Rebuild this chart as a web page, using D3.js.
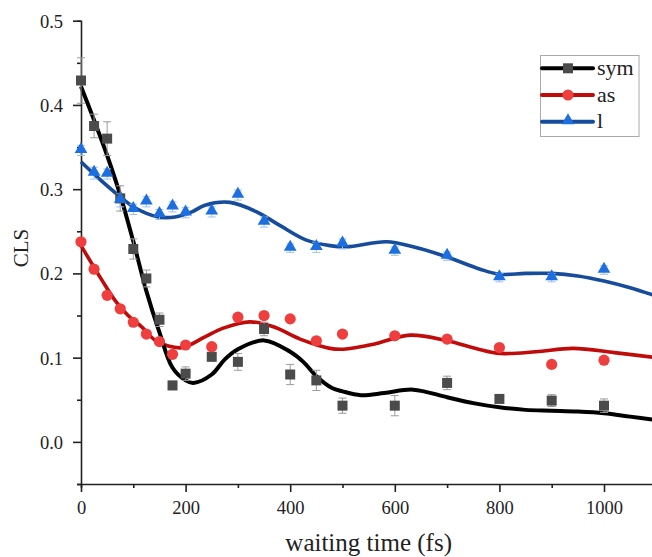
<!DOCTYPE html>
<html>
<head>
<meta charset="utf-8">
<script src="https://cdnjs.cloudflare.com/ajax/libs/d3/7.8.5/d3.min.js"></script>
<style>
  body { margin: 0; background: #fff; }
  svg text { font-family: "Liberation Serif", "DejaVu Serif", serif; fill: #222; }
</style>
</head>
<body>
<div id="chart"></div>
<script>
// measured points (fs, CLS)
var times = [0, 25, 50, 75, 100, 125, 150, 175, 200, 250, 300, 350, 400, 450, 500, 600, 700, 800, 900, 1000];

var symVals = [0.429, 0.375, 0.360, 0.289, 0.229, 0.194, 0.145, 0.067, 0.081, 0.101, 0.095, 0.134, 0.080, 0.073, 0.043, 0.043, 0.070, 0.051, 0.049, 0.043];
var symErr  = [0.027, 0.014, 0.020, 0.015, 0.012, 0.010, 0.008, 0.005, 0.008, 0.005, 0.010, 0.008, 0.012, 0.012, 0.009, 0.012, 0.008, 0.004, 0.007, 0.008];

var asVals = [0.2375, 0.205, 0.174, 0.158, 0.142, 0.128, 0.119, 0.104, 0.115, 0.113, 0.148, 0.150, 0.146, 0.120, 0.128, 0.126, 0.122, 0.112, 0.092, 0.097];

var lVals = [0.346, 0.319, 0.318, 0.287, 0.276, 0.285, 0.270, 0.279, 0.272, 0.273, 0.293, 0.261, 0.230, 0.231, 0.235, 0.2265, 0.2205, 0.195, 0.195, 0.204];
var lErr  = [0.006, 0.007, 0.006, 0.008, 0.006, 0.006, 0.006, 0.006, 0.006, 0.006, 0.006, 0.006, 0.005, 0.006, 0.006, 0.005, 0.005, 0.005, 0.005, 0.005];

// fit curves
var symFitT = [0, 25, 50, 75, 100, 125, 150, 175, 200, 215, 250, 275, 300, 350, 400, 425, 450, 480, 500, 535, 580, 635, 700, 750, 800, 850, 900, 950, 1000, 1050, 1100];
var symFitV = [0.422, 0.382, 0.340, 0.293, 0.238, 0.179, 0.130, 0.088, 0.073, 0.070, 0.080, 0.098, 0.110, 0.1205, 0.107, 0.095, 0.078, 0.064, 0.060, 0.0555, 0.058, 0.062, 0.053, 0.046, 0.041, 0.038, 0.037, 0.036, 0.034, 0.030, 0.026];

var asFitT = [0, 40, 65, 90, 116, 141, 167, 195, 237, 272, 323, 368, 419, 476, 502, 560, 629, 700, 760, 801, 870, 941, 1020, 1100];
var asFitV = [0.233, 0.192, 0.168, 0.150, 0.1366, 0.121, 0.1137, 0.112, 0.1247, 0.135, 0.1425, 0.1366, 0.122, 0.111, 0.110, 0.116, 0.1267, 0.120, 0.110, 0.105, 0.107, 0.111, 0.106, 0.100];

var lFitT = [0, 27, 71, 103, 148, 180, 212, 237, 285, 336, 380, 431, 476, 508, 584, 635, 699, 763, 800, 850, 900, 950, 1000, 1050, 1100];
var lFitV = [0.3325, 0.3167, 0.293, 0.278, 0.267, 0.267, 0.273, 0.281, 0.2843, 0.273, 0.257, 0.2395, 0.233, 0.2316, 0.2375, 0.2316, 0.2197, 0.205, 0.199, 0.200, 0.200, 0.197, 0.191, 0.183, 0.173];

var xTicks = [0, 200, 400, 600, 800, 1000];
var yTicks = [0.0, 0.1, 0.2, 0.3, 0.4, 0.5];
var seriesNames = ['sym', 'as', 'l'];

var W = 652, H = 557;
var svg = d3.select('#chart').append('svg')
    .attr('width', W)
    .attr('height', H);

var x = d3.scaleLinear().domain([0, 1100]).range([81, 656.3]);
var y = d3.scaleLinear().domain([-0.05, 0.5]).range([484, 20.7]);

var zip = function(ts, vs) { return ts.map(function(t, i) { return [t, vs[i]]; }); };

var line = d3.line()
    .x(function(d) { return x(d[0]); })
    .y(function(d) { return y(d[1]); })
    .curve(d3.curveCatmullRom.alpha(0.5));

// axes
var xAxis = svg.append('g')
    .attr('transform', 'translate(0,' + y(-0.05) + ')');
xAxis.call(d3.axisBottom(x).tickValues(d3.range(0, 1101, 100)).tickSize(4).tickFormat(''));
xAxis.call(function(g) { g.selectAll('.tick').filter(function(d) { return d % 200 === 0; }).select('line').attr('y2', 8); });
xAxis.selectAll('.tick').filter(function(d) { return xTicks.indexOf(d) >= 0; })
    .append('text').attr('y', 30).attr('text-anchor', 'middle')
    .style('font-size', '18.5px').text(function(d) { return d; });

var yAxis = svg.append('g')
    .attr('transform', 'translate(' + x(0) + ',0)');
yAxis.call(d3.axisLeft(y).tickValues(d3.range(-0.05, 0.501, 0.05)).tickSize(4).tickFormat(''));
yAxis.call(function(g) {
    g.selectAll('.tick').filter(function(d) { return Math.abs(Math.round(d * 10) - d * 10) < 1e-6; }).select('line').attr('x2', -8);
});
yAxis.selectAll('.tick').filter(function(d) { return Math.abs(Math.round(d * 10) - d * 10) < 1e-6 && d > -0.01; })
    .append('text').attr('x', -18).attr('dy', '0.35em').attr('text-anchor', 'end')
    .style('font-size', '18.5px').text(function(d) { return d3.format('.1f')(d); });

svg.selectAll('.domain').attr('stroke', '#222').attr('stroke-width', 1.6);
svg.selectAll('.tick line').attr('stroke', '#222').attr('stroke-width', 1.6);

svg.append('text')
    .attr('x', x(550)).attr('y', 551)
    .attr('text-anchor', 'middle')
    .style('font-size', '25px')
    .text('waiting time (fs)');

svg.append('text')
    .attr('transform', 'translate(28,248) rotate(-90)')
    .attr('text-anchor', 'middle')
    .style('font-size', '21px')
    .text('CLS');

// fit lines
svg.append('path').datum(zip(lFitT, lFitV))
    .attr('d', line).attr('fill', 'none').attr('stroke', '#174c9c').attr('stroke-width', 3.6);
svg.append('path').datum(zip(asFitT, asFitV))
    .attr('d', line).attr('fill', 'none').attr('stroke', '#c00b0b').attr('stroke-width', 3.6);
svg.append('path').datum(zip(symFitT, symFitV))
    .attr('d', line).attr('fill', 'none').attr('stroke', '#000').attr('stroke-width', 4);

// error bars
function errBars(vals, errs, col) {
    var g = svg.append('g').attr('stroke', col).attr('stroke-width', 1);
    times.forEach(function(t, i) {
        var cx = x(t), y0 = y(vals[i] - errs[i]), y1 = y(vals[i] + errs[i]);
        g.append('line').attr('x1', cx).attr('x2', cx).attr('y1', y0).attr('y2', y1);
        g.append('line').attr('x1', cx - 4).attr('x2', cx + 4).attr('y1', y0).attr('y2', y0);
        g.append('line').attr('x1', cx - 4).attr('x2', cx + 4).attr('y1', y1).attr('y2', y1);
    });
}
errBars(symVals, symErr, '#9a9a9a');
errBars(lVals, lErr, '#9cc0f2');

// markers
var sq = d3.symbol().type(d3.symbolSquare).size(100);
var tri = d3.symbol().type(d3.symbolTriangle).size(70);

svg.append('g').selectAll('path').data(zip(times, symVals)).enter()
    .append('path').attr('d', sq)
    .attr('transform', function(d) { return 'translate(' + x(d[0]) + ',' + y(d[1]) + ')'; })
    .attr('fill', '#4b4b4b');

svg.append('g').selectAll('circle').data(zip(times, asVals)).enter()
    .append('circle')
    .attr('cx', function(d) { return x(d[0]); })
    .attr('cy', function(d) { return y(d[1]); })
    .attr('r', 5.6)
    .attr('fill', '#ee3e3e');

svg.append('g').selectAll('path').data(zip(times, lVals)).enter()
    .append('path').attr('d', tri)
    .attr('transform', function(d) { return 'translate(' + x(d[0]) + ',' + (y(d[1]) - 1) + ')'; })
    .attr('fill', '#1d6fe0');

// legend
var leg = svg.append('g');
leg.append('rect').attr('x', 540.5).attr('y', 55.5).attr('width', 98.5).attr('height', 81)
    .attr('fill', '#fff').attr('stroke', '#aaa').attr('stroke-width', 1);
var legLine = ['#000', '#c00b0b', '#174c9c'];
seriesNames.forEach(function(name, i) {
    var ly = 68.3 + i * 26.7;
    leg.append('line').attr('x1', 542).attr('x2', 593).attr('y1', ly).attr('y2', ly)
        .attr('stroke', legLine[i]).attr('stroke-width', 4).attr('stroke-linecap', 'round');
    if (i === 0) leg.append('path').attr('d', sq).attr('transform', 'translate(568,' + ly + ')').attr('fill', '#4b4b4b');
    if (i === 1) leg.append('circle').attr('cx', 568).attr('cy', ly).attr('r', 5.6).attr('fill', '#ee3e3e');
    if (i === 2) leg.append('path').attr('d', tri).attr('transform', 'translate(568,' + (ly - 1) + ')').attr('fill', '#1d6fe0');
    leg.append('text').attr('x', 597).attr('y', ly).attr('dy', '0.3em')
        .style('font-size', '22px').text(name);
});
</script>
</body>
</html>
